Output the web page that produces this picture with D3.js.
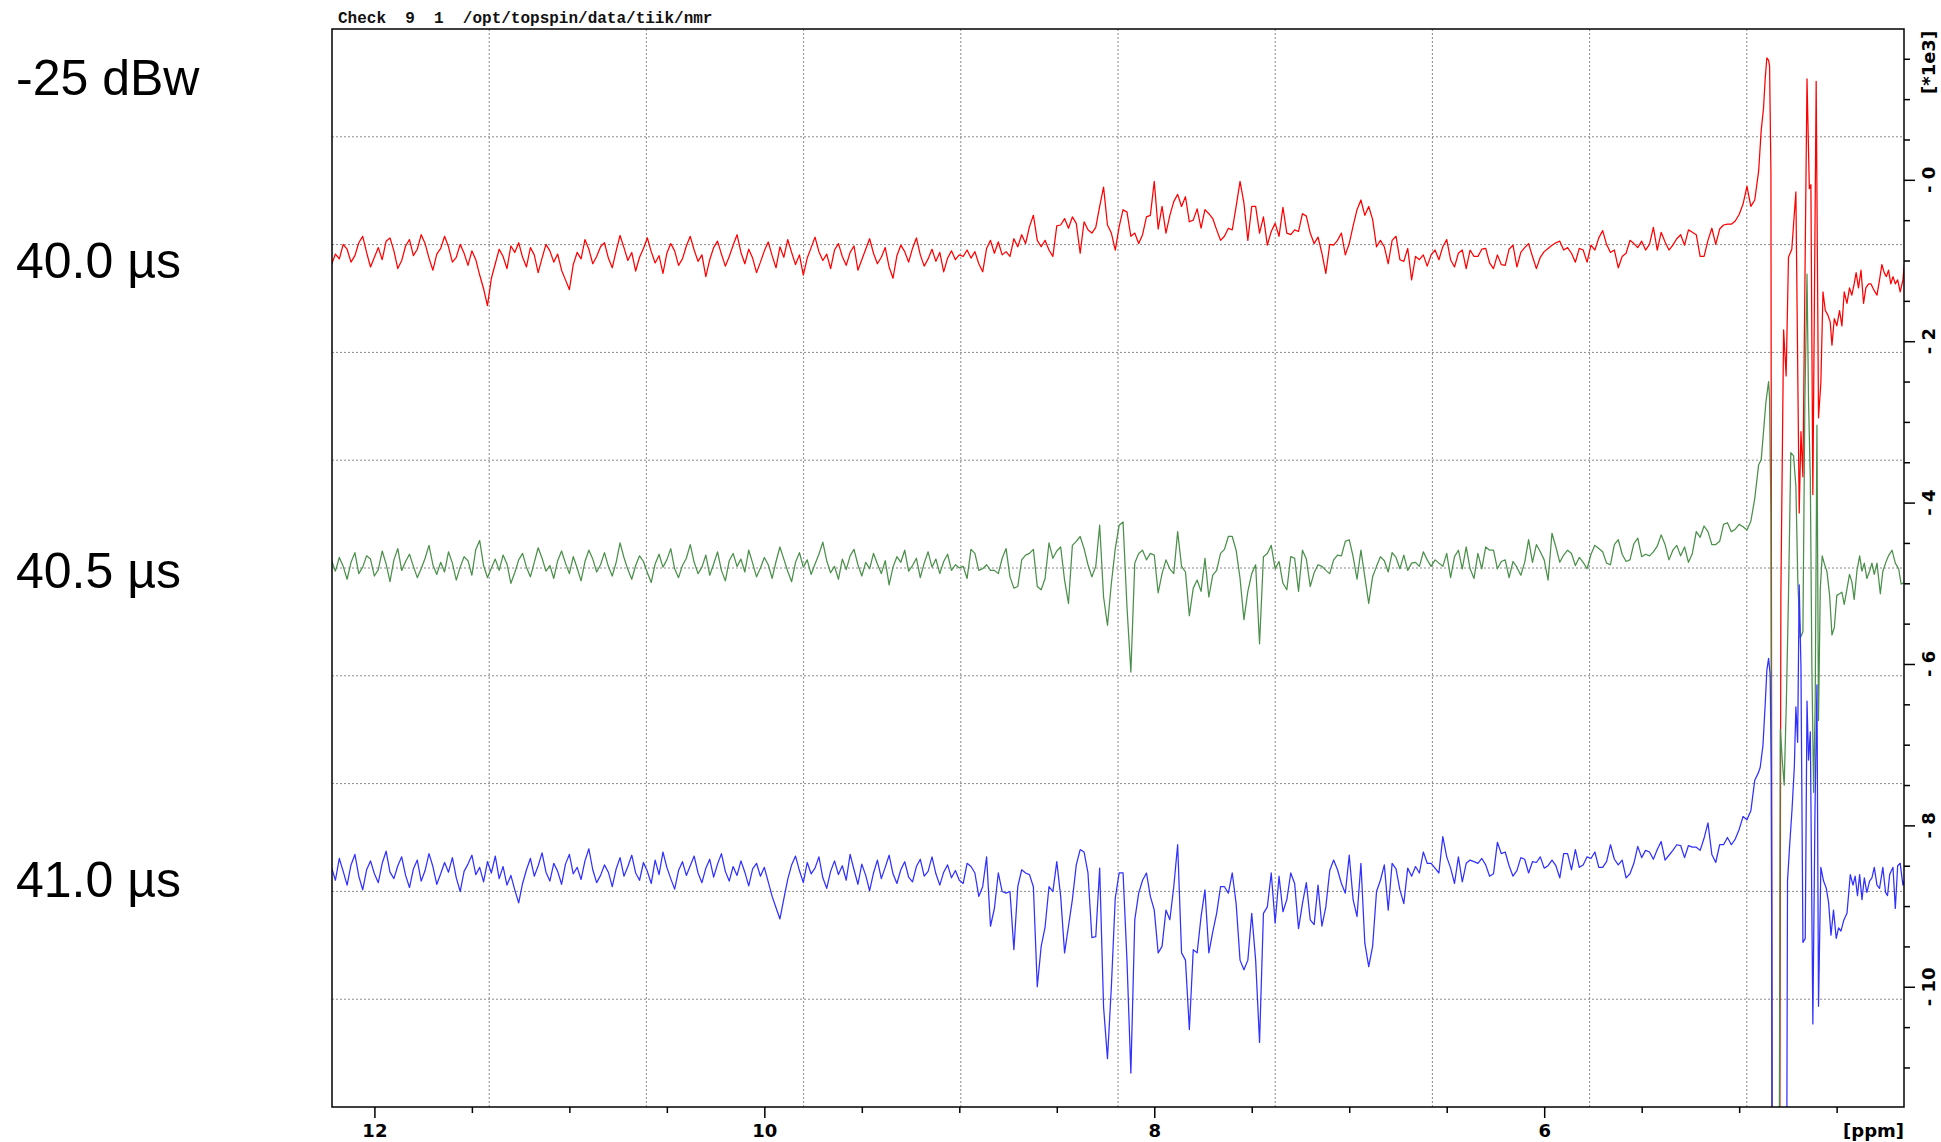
<!DOCTYPE html>
<html>
<head>
<meta charset="utf-8">
<script src="https://cdn.jsdelivr.net/npm/d3@7"></script>
<style>
  body { margin: 0; background: #fff; }
</style>
</head>
<body>
<svg id="chart"></svg>
<script>
// ---- data (ppm on x, intensity in units of 1e3 on y) ----
const ppmStep = 0.02;

// red: 40.0 us
const redLeft = [
-1.05,-0.92,-0.98,-0.80,-0.86,-1.02,-0.94,-0.78,-0.70,-0.90,
-1.08,-0.96,-0.84,-0.99,-0.76,-0.72,-0.88,-1.10,-1.00,-0.82,
-0.74,-0.94,-0.86,-0.68,-0.79,-0.97,-1.12,-0.92,-0.85,-0.70,
-0.83,-1.02,-0.96,-0.80,-0.91,-1.06,-0.88,-0.99,-1.18,-1.35,
-1.56,-1.22,-1.04,-0.86,-0.95,-1.10,-0.82,-0.90,-0.78,-0.96,
-1.08,-0.84,-0.93,-1.15,-0.97,-0.80,-0.88,-1.02,-0.92,-1.12,
-1.24,-1.36,-1.05,-0.90,-0.98,-0.74,-0.86,-1.04,-0.95,-0.83,
-0.78,-0.97,-1.09,-0.88,-0.69,-0.84,-1.00,-0.90,-1.13,-0.96,
-0.85,-0.72,-0.89,-1.03,-0.94,-1.16,-0.91,-0.79,-0.88,-1.06,
-0.98,-0.82,-0.70,-0.87,-1.01,-0.93,-1.20,-0.99,-0.84,-0.76,
-0.92,-1.07,-0.95,-0.81,-0.68,-0.90,-1.04,-0.86,-0.97,-1.15,
-1.02,-0.88,-0.77,-0.94,-1.09,-0.83,-0.96,-0.74,-0.90,-1.05,
-0.93,-1.18,-0.97,-0.84,-0.71,-0.89,-1.00,-0.92,-1.10,-0.87,
-0.79,-0.95,-1.06,-0.90,-0.82,-1.12,-0.99,-0.86,-0.73,-0.91,
-1.04,-0.96,-0.84,-1.08,-1.22,-0.94,-0.81,-0.89,-1.02,-0.85,
-0.72,-0.93,-1.07,-0.98,-0.86,-1.01,-0.90,-1.14,-0.97,-0.88,
-0.99,-0.93];
const redMid = [
-0.95,-0.87,-0.97,-0.89,-1.04,-1.14,-0.85,-0.75,-0.91,-0.77,
-0.93,-0.89,-0.95,-0.73,-0.83,-0.68,-0.79,-0.58,-0.44,-0.75,
-0.83,-0.75,-0.87,-0.95,-0.57,-0.56,-0.48,-0.60,-0.46,-0.54,
-0.91,-0.52,-0.62,-0.66,-0.59,-0.33,-0.09,-0.56,-0.66,-0.87,
-0.58,-0.37,-0.40,-0.70,-0.66,-0.79,-0.68,-0.46,-0.44,-0.02,
-0.61,-0.33,-0.66,-0.44,-0.27,-0.18,-0.33,-0.21,-0.52,-0.50,
-0.36,-0.60,-0.37,-0.42,-0.48,-0.62,-0.75,-0.70,-0.60,-0.62,
-0.33,-0.02,-0.29,-0.75,-0.33,-0.33,-0.66,-0.46,-0.81,-0.64,
-0.54,-0.70,-0.34,-0.66,-0.68,-0.62,-0.64,-0.42,-0.45,-0.66,
-0.79,-0.71,-0.91,-1.16,-0.80,-0.81,-0.75,-0.66,-0.93,-0.79,
-0.57,-0.37,-0.25,-0.44,-0.33,-0.49,-0.83,-0.75,-0.83,-1.04,
-0.75,-0.70,-0.99,-1.01,-0.85,-1.24,-0.95,-0.99,-0.93,-1.07,
-0.93,-0.87,-0.99,-0.83,-0.74,-0.99,-1.08,-0.91,-0.87,-1.10,
-0.87,-0.95,-0.95];
const redTail = [
-0.86,-0.85,-1.03,-1.10,-0.93,-1.05,-1.06,-0.86,-0.81,-1.08,
-0.90,-0.84,-0.79,-0.95,-1.10,-0.96,-0.89,-0.85,-0.81,-0.78,
-0.76,-0.87,-0.84,-0.91,-1.02,-0.85,-0.87,-1.02,-0.81,-0.87,
-0.72,-0.63,-0.80,-0.90,-0.87,-1.09,-0.95,-0.91,-0.75,-0.79,
-0.84,-0.76,-0.87,-0.80,-0.59,-0.87,-0.65,-0.77,-0.87,-0.81,
-0.73,-0.68,-0.81,-0.62,-0.65,-0.68,-0.95,-0.95,-0.75,-0.60,
-0.80,-0.61,-0.56,-0.55,-0.55,-0.51,-0.43,-0.30,-0.08,-0.33,
-0.25,0.11];
const redSpike = [
[4.887,0.61],[4.875,0.89],[4.866,1.27],[4.858,1.51],[4.849,1.48],[4.844,1.41],
[4.837,0.08],[4.830,-14],[4.793,-14],[4.786,-5.13],[4.772,-1.86],[4.759,-2.43],
[4.747,-0.96],[4.730,-0.86],[4.709,-0.15],[4.692,-4.13],[4.683,-3.12],[4.673,-3.68],
[4.652,1.25],[4.640,-0.11],[4.632,-0.06],[4.622,-3.90],[4.605,1.22],[4.593,-2.95],
[4.581,-2.52],[4.570,-1.39],[4.558,-1.62],[4.546,-1.67],[4.533,-1.76],[4.524,-2.05],
[4.512,-1.72],[4.499,-1.81],[4.485,-1.62],[4.473,-1.81],[4.461,-1.39],[4.447,-1.53],
[4.434,-1.34],[4.422,-1.43],[4.410,-1.29],[4.400,-1.15],[4.388,-1.34],[4.375,-1.12],
[4.362,-1.53],[4.350,-1.34],[4.336,-1.29],[4.324,-1.29],[4.310,-1.36],[4.293,-1.43],
[4.280,-1.24],[4.268,-1.05],[4.256,-1.15],[4.245,-1.20],[4.234,-1.12],[4.222,-1.29],
[4.211,-1.20],[4.199,-1.29],[4.187,-1.24],[4.174,-1.39],[4.160,-1.24],[4.153,-1.05]];

// green: 40.5 us
const greenLeft = [
-4.72,-4.85,-4.68,-4.79,-4.95,-4.74,-4.62,-4.88,-4.80,-4.66,
-4.70,-4.91,-4.83,-4.60,-4.76,-4.98,-4.71,-4.57,-4.84,-4.73,
-4.64,-4.79,-4.93,-4.82,-4.69,-4.53,-4.77,-4.89,-4.74,-4.86,
-4.61,-4.75,-4.96,-4.80,-4.67,-4.72,-4.90,-4.58,-4.47,-4.78,
-4.93,-4.81,-4.70,-4.84,-4.65,-4.76,-5.00,-4.87,-4.71,-4.63,
-4.80,-4.92,-4.74,-4.56,-4.69,-4.85,-4.78,-4.94,-4.72,-4.60,
-4.75,-4.88,-4.67,-4.81,-4.97,-4.73,-4.59,-4.70,-4.86,-4.77,
-4.62,-4.79,-4.91,-4.74,-4.50,-4.68,-4.83,-4.95,-4.78,-4.66,
-4.73,-4.87,-4.99,-4.76,-4.64,-4.80,-4.71,-4.57,-4.82,-4.93,
-4.78,-4.69,-4.52,-4.74,-4.88,-4.80,-4.65,-4.90,-4.76,-4.61,
-4.84,-4.97,-4.72,-4.63,-4.79,-4.70,-4.86,-4.59,-4.75,-4.92,
-4.81,-4.68,-4.77,-4.94,-4.73,-4.55,-4.70,-4.85,-4.98,-4.74,
-4.62,-4.80,-4.71,-4.89,-4.76,-4.64,-4.49,-4.72,-4.87,-4.79,
-4.95,-4.70,-4.83,-4.66,-4.58,-4.77,-4.91,-4.74,-4.82,-4.63,
-4.76,-4.88,-4.72,-5.02,-4.80,-4.67,-4.74,-4.59,-4.85,-4.78,
-4.69,-4.93,-4.75,-4.61,-4.80,-4.70,-4.88,-4.73,-4.64,-4.84,
-4.77,-4.81];
const greenMid = [
-4.79,-4.94,-4.58,-4.63,-4.84,-4.82,-4.77,-4.84,-4.84,-4.88,
-4.69,-4.57,-4.92,-5.06,-5.04,-4.71,-4.65,-4.63,-4.58,-5.04,
-5.08,-4.94,-4.50,-4.69,-4.60,-4.55,-4.96,-5.25,-4.53,-4.48,
-4.42,-4.57,-4.77,-4.92,-4.79,-4.28,-5.17,-5.52,-5.00,-4.57,
-4.28,-4.24,-5.29,-6.10,-4.75,-4.63,-4.59,-4.71,-4.63,-4.65,
-5.12,-4.88,-4.71,-4.82,-4.88,-4.36,-4.79,-4.86,-5.40,-5.06,
-4.96,-5.10,-4.69,-5.17,-4.90,-4.84,-4.63,-4.58,-4.42,-4.42,
-4.59,-4.94,-5.45,-5.10,-4.88,-4.77,-5.75,-4.67,-4.63,-4.53,
-4.82,-4.73,-5.00,-5.08,-4.67,-4.69,-5.10,-4.59,-4.70,-5.04,
-4.87,-4.77,-4.79,-4.84,-4.88,-4.71,-4.65,-4.66,-4.48,-4.46,
-4.67,-4.95,-4.59,-4.92,-5.25,-4.92,-4.79,-4.67,-4.72,-4.86,
-4.62,-4.68,-4.82,-4.65,-4.84,-4.75,-4.74,-4.79,-4.61,-4.71,
-4.79,-4.71,-4.75,-4.79,-4.63,-4.93,-4.67,-4.59,-4.82,-4.55,
-4.82,-4.94,-4.63];
const greenTail = [
-4.82,-4.55,-4.59,-4.59,-4.82,-4.73,-4.71,-4.93,-4.73,-4.80,
-4.90,-4.74,-4.46,-4.74,-4.52,-4.61,-4.71,-4.96,-4.38,-4.55,
-4.74,-4.65,-4.59,-4.63,-4.78,-4.68,-4.74,-4.82,-4.64,-4.53,
-4.57,-4.61,-4.75,-4.77,-4.52,-4.46,-4.64,-4.73,-4.71,-4.51,
-4.44,-4.67,-4.64,-4.66,-4.61,-4.54,-4.40,-4.52,-4.71,-4.59,
-4.53,-4.66,-4.55,-4.74,-4.63,-4.36,-4.43,-4.29,-4.36,-4.52,
-4.52,-4.48,-4.27,-4.25,-4.36,-4.33,-4.27,-4.30,-4.34,-4.23,
-3.95,-3.53];
const greenSpike = [
[4.887,-3.47],[4.875,-3.12],[4.863,-2.76],[4.849,-2.50],[4.844,-2.71],[4.837,-4.18],
[4.830,-14],[4.796,-14],[4.789,-6.81],[4.779,-7.19],[4.769,-7.50],[4.758,-6.48],
[4.747,-5.15],[4.735,-3.38],[4.721,-3.42],[4.709,-3.80],[4.699,-4.98],[4.687,-5.68],
[4.673,-5.60],[4.663,-2.76],[4.652,-1.17],[4.644,-2.76],[4.635,-3.71],[4.627,-6.04],
[4.618,-7.59],[4.610,-6.48],[4.601,-3.04],[4.593,-6.70],[4.584,-5.07],[4.574,-4.66],
[4.564,-4.75],[4.550,-4.85],[4.536,-5.15],[4.524,-5.64],[4.512,-5.55],[4.499,-5.15],
[4.485,-5.13],[4.473,-5.11],[4.461,-5.26],[4.447,-5.07],[4.434,-4.89],[4.422,-4.98],
[4.410,-5.20],[4.396,-4.85],[4.382,-4.66],[4.370,-4.85],[4.358,-4.75],[4.345,-4.94],
[4.331,-4.85],[4.319,-4.75],[4.307,-4.89],[4.293,-4.75],[4.276,-5.13],[4.263,-4.85],
[4.249,-4.75],[4.234,-4.66],[4.216,-4.59],[4.199,-4.75],[4.182,-4.82],[4.169,-5.01],
[4.153,-4.99]];

// blue: 41.0 us
const blueLeft = [
-8.52,-8.68,-8.41,-8.57,-8.74,-8.49,-8.36,-8.63,-8.80,-8.55,
-8.44,-8.60,-8.71,-8.47,-8.32,-8.58,-8.66,-8.50,-8.39,-8.62,
-8.77,-8.54,-8.43,-8.69,-8.56,-8.35,-8.51,-8.73,-8.60,-8.46,
-8.58,-8.40,-8.65,-8.82,-8.57,-8.48,-8.37,-8.61,-8.52,-8.70,
-8.45,-8.59,-8.38,-8.66,-8.51,-8.74,-8.62,-8.80,-8.96,-8.72,
-8.55,-8.41,-8.63,-8.50,-8.34,-8.58,-8.69,-8.47,-8.57,-8.73,
-8.48,-8.36,-8.60,-8.52,-8.67,-8.44,-8.29,-8.55,-8.71,-8.62,
-8.49,-8.58,-8.76,-8.54,-8.40,-8.63,-8.51,-8.37,-8.59,-8.68,
-8.46,-8.57,-8.72,-8.43,-8.61,-8.33,-8.52,-8.66,-8.79,-8.56,
-8.45,-8.62,-8.50,-8.38,-8.59,-8.71,-8.53,-8.42,-8.64,-8.48,
-8.35,-8.57,-8.69,-8.51,-8.62,-8.44,-8.58,-8.75,-8.54,-8.47,
-8.63,-8.52,-8.70,-8.88,-9.02,-9.16,-8.91,-8.67,-8.49,-8.38,
-8.56,-8.71,-8.46,-8.60,-8.53,-8.39,-8.65,-8.78,-8.57,-8.44,
-8.61,-8.50,-8.68,-8.36,-8.55,-8.73,-8.48,-8.62,-8.81,-8.59,
-8.43,-8.66,-8.52,-8.37,-8.60,-8.72,-8.55,-8.45,-8.64,-8.70,
-8.51,-8.42,-8.63,-8.57,-8.39,-8.60,-8.74,-8.58,-8.49,-8.65,
-8.56,-8.68];
const blueMid = [
-8.72,-8.47,-8.51,-8.59,-8.88,-8.76,-8.39,-9.25,-9.03,-8.59,
-8.82,-8.84,-8.82,-9.54,-8.76,-8.55,-8.59,-8.61,-8.76,-10.00,
-9.50,-9.26,-8.76,-8.82,-8.45,-8.88,-9.58,-9.25,-8.92,-8.49,
-8.30,-8.33,-8.59,-9.39,-9.38,-8.53,-10.25,-10.89,-10.00,-8.90,
-8.59,-8.59,-9.67,-11.07,-9.17,-8.84,-8.68,-8.59,-8.88,-9.05,
-9.58,-9.50,-9.05,-9.17,-8.76,-8.24,-9.58,-9.67,-10.53,-9.54,
-9.58,-9.13,-8.80,-9.58,-9.32,-9.09,-8.76,-8.76,-8.84,-8.59,
-8.97,-9.67,-9.79,-9.67,-9.09,-9.67,-10.69,-9.09,-9.01,-8.59,
-9.21,-8.63,-9.07,-8.92,-8.59,-8.72,-9.28,-8.97,-8.71,-9.17,
-9.23,-8.74,-9.25,-9.01,-8.56,-8.43,-8.55,-8.72,-8.84,-8.37,
-8.92,-9.13,-8.47,-9.46,-9.75,-9.50,-8.82,-8.68,-8.49,-9.05,
-8.47,-8.54,-8.80,-8.97,-8.53,-8.63,-8.51,-8.59,-8.33,-8.47,
-8.47,-8.53,-8.59,-8.14,-8.39,-8.53,-8.72,-8.39,-8.70,-8.47,
-8.43,-8.45,-8.47];
const blueTail = [
-8.41,-8.49,-8.63,-8.60,-8.21,-8.35,-8.33,-8.50,-8.63,-8.56,
-8.40,-8.42,-8.59,-8.45,-8.46,-8.39,-8.53,-8.50,-8.43,-8.50,
-8.65,-8.35,-8.35,-8.55,-8.30,-8.52,-8.49,-8.39,-8.41,-8.33,
-8.52,-8.52,-8.45,-8.24,-8.42,-8.49,-8.43,-8.65,-8.60,-8.47,
-8.26,-8.40,-8.31,-8.33,-8.42,-8.30,-8.20,-8.43,-8.37,-8.31,
-8.24,-8.25,-8.40,-8.25,-8.27,-8.27,-8.31,-8.16,-7.97,-8.36,
-8.46,-8.24,-8.24,-8.15,-8.24,-8.17,-8.05,-7.89,-7.93,-7.82,
-7.44,-7.34];
const blueSpike = [
[4.892,-7.28],[4.878,-7.01],[4.866,-6.48],[4.858,-6.08],[4.849,-5.93],[4.841,-6.13],
[4.835,-7.37],[4.829,-14],[4.758,-14],[4.752,-8.69],[4.741,-8.25],[4.729,-7.81],
[4.717,-7.28],[4.709,-6.53],[4.700,-6.97],[4.692,-5.02],[4.683,-6.04],[4.673,-9.45],
[4.661,-9.40],[4.652,-6.46],[4.644,-7.19],[4.635,-6.84],[4.622,-10.46],[4.611,-7.81],
[4.601,-6.26],[4.593,-10.24],[4.581,-8.52],[4.567,-8.69],[4.553,-8.78],[4.541,-8.96],
[4.529,-9.36],[4.516,-9.05],[4.502,-9.40],[4.490,-9.27],[4.478,-9.31],[4.464,-9.18],
[4.447,-9.09],[4.430,-8.61],[4.416,-8.74],[4.405,-8.63],[4.393,-8.87],[4.382,-8.61],
[4.370,-8.92],[4.358,-8.65],[4.345,-8.83],[4.331,-8.69],[4.319,-8.65],[4.307,-8.52],
[4.293,-8.74],[4.280,-8.78],[4.263,-8.52],[4.249,-8.83],[4.239,-8.87],[4.228,-8.61],
[4.211,-8.52],[4.199,-9.03],[4.187,-8.50],[4.174,-8.47],[4.160,-8.74],[4.153,-8.69]];

const segStarts = [12.22, 8.98, 6.32];
const xLabelTicks = [12, 10, 8, 6];
const yLabelTicks = [0, -2, -4, -6, -8, -10];
const seriesColors = ["#ff0000", "#4a8f4a", "#3030ff"];
const sideLabels = ["-25 dBw", "40.0 \u00b5s", "40.5 \u00b5s", "41.0 \u00b5s"];
const headerText = "Check\u00a0\u00a09\u00a0\u00a01\u00a0\u00a0/opt/topspin/data/tiik/nmr";

// ---- layout ----
const W = 1941, H = 1142;
const plot = {left: 332, right: 1904, top: 29, bottom: 1107};
const pw = plot.right - plot.left, ph = plot.bottom - plot.top;

const svg = d3.select("#chart").attr("width", W).attr("height", H)
  .style("display", "block");

const x = d3.scaleLinear().domain([12.2175, 4.1545]).range([plot.left, plot.right]);
const y = d3.scaleLinear().domain([-11.49, 1.869]).range([plot.bottom, plot.top]);

function seg(start, vals) {
  return vals.map((v, i) => [start - ppmStep * i, v]);
}
const series = [
  seg(segStarts[0], redLeft).concat(seg(segStarts[1], redMid), seg(segStarts[2], redTail), redSpike),
  seg(segStarts[0], greenLeft).concat(seg(segStarts[1], greenMid), seg(segStarts[2], greenTail), greenSpike),
  seg(segStarts[0], blueLeft).concat(seg(segStarts[1], blueMid), seg(segStarts[2], blueTail), blueSpike)
];

// grid: 10 x 10 dotted cells
const grid = svg.append("g").attr("stroke", "#8a8a8a").attr("stroke-width", 1)
  .attr("stroke-dasharray", "2,2");
grid.selectAll(".gv").data(d3.range(1, 10)).enter().append("line")
  .attr("x1", k => plot.left + pw * k / 10).attr("x2", k => plot.left + pw * k / 10)
  .attr("y1", plot.top).attr("y2", plot.bottom);
grid.selectAll(".gh").data(d3.range(1, 10)).enter().append("line")
  .attr("y1", k => plot.top + ph * k / 10).attr("y2", k => plot.top + ph * k / 10)
  .attr("x1", plot.left).attr("x2", plot.right);

// traces
svg.append("clipPath").attr("id", "clip").append("rect")
  .attr("x", plot.left).attr("y", plot.top).attr("width", pw).attr("height", ph);

const line = d3.line().x(d => x(d[0])).y(d => y(d[1]));

svg.append("g").attr("clip-path", "url(#clip)")
  .selectAll("path").data(series).enter().append("path")
  .attr("fill", "none")
  .attr("stroke", (d, i) => seriesColors[i])
  .attr("stroke-width", 1.25)
  .attr("stroke-linejoin", "round")
  .attr("d", line);

// frame
svg.append("rect")
  .attr("x", plot.left).attr("y", plot.top).attr("width", pw).attr("height", ph)
  .attr("fill", "none").attr("stroke", "#000").attr("stroke-width", 1.5);

const tickFont = "'DejaVu Sans', sans-serif";

// bottom axis
const xAxis = d3.axisBottom(x)
  .tickValues(d3.range(12, 4.15, -0.5))
  .tickSize(6)
  .tickFormat(d => xLabelTicks.includes(d) ? d : "");

svg.append("g")
  .attr("transform", `translate(0,${plot.bottom})`)
  .call(xAxis)
  .call(g => g.select(".domain").remove())
  .call(g => g.selectAll(".tick line")
    .attr("y2", d => d % 2 === 0 ? 11 : 6)
    .attr("stroke", "#000").attr("stroke-width", 1.5))
  .call(g => g.selectAll(".tick text")
    .attr("y", 30).attr("dy", 0)
    .attr("font-family", tickFont).attr("font-size", 18)
    .attr("font-weight", "bold").attr("fill", "#000"));

svg.append("text")
  .attr("x", plot.right).attr("y", 1137)
  .attr("text-anchor", "end")
  .attr("font-family", tickFont).attr("font-size", 18).attr("font-weight", "bold")
  .text("[ppm]");

// right axis
const yAxis = d3.axisRight(y)
  .tickValues(d3.range(1.5, -11.4, -0.5))
  .tickSize(6)
  .tickFormat("");

svg.append("g")
  .attr("transform", `translate(${plot.right},0)`)
  .call(yAxis)
  .call(g => g.select(".domain").remove())
  .call(g => g.selectAll(".tick line")
    .attr("x2", d => d % 2 === 0 ? 11 : 6)
    .attr("stroke", "#000").attr("stroke-width", 1.5));

svg.selectAll(".ylab").data(yLabelTicks).enter().append("text")
  .attr("transform", d => `translate(1935,${y(d)}) rotate(-90)`)
  .attr("text-anchor", "middle")
  .attr("font-family", tickFont).attr("font-size", 18).attr("font-weight", "bold")
  .text(d => "-\u00a0" + Math.abs(d));

svg.append("text")
  .attr("transform", "translate(1935,94) rotate(-90)")
  .attr("text-anchor", "start")
  .attr("font-family", tickFont).attr("font-size", 18).attr("font-weight", "bold")
  .text("[*1e3]");

// header
svg.append("text")
  .attr("x", 338).attr("y", 23)
  .attr("font-family", "'Liberation Mono', monospace").attr("font-size", 16)
  .attr("font-weight", "bold").attr("fill", "#111")
  .text(headerText);

// side labels
const sideY = [94.5, 278, 588, 896.5];
svg.selectAll(".side").data(sideLabels).enter().append("text")
  .attr("x", 16).attr("y", (d, i) => sideY[i])
  .attr("font-family", "'Liberation Sans', Arial, sans-serif").attr("font-size", 50)
  .attr("fill", "#000")
  .text(d => d);
</script>
</body>
</html>
